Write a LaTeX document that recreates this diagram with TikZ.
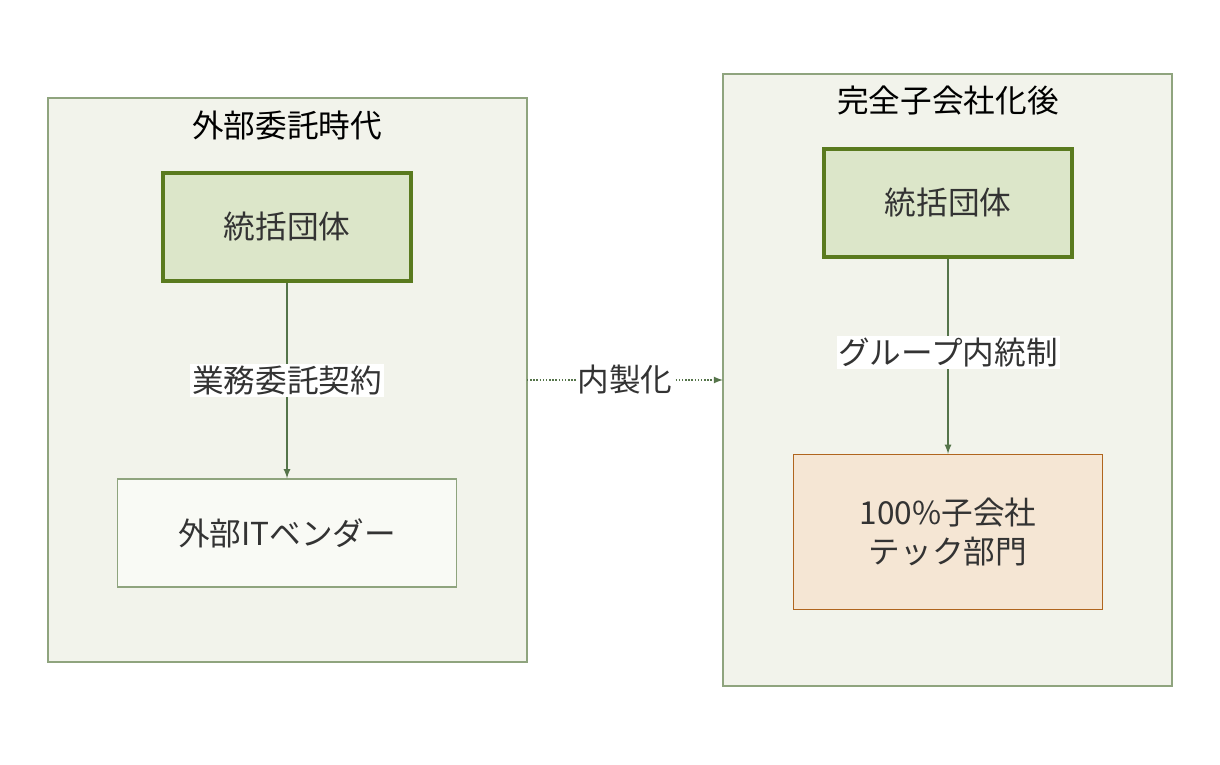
\documentclass[tikz,border=0pt]{standalone}
\usepackage{fontspec}
\setmainfont{Noto Sans CJK JP}
\usetikzlibrary{positioning}
\definecolor{clusterfill}{HTML}{F2F3EB}
\definecolor{clusterline}{HTML}{8FA47E}
\definecolor{leadfill}{HTML}{DCE6C9}
\definecolor{leadline}{HTML}{5A7A1E}
\definecolor{vendorfill}{HTML}{F9FAF5}
\definecolor{subfill}{HTML}{F5E6D4}
\definecolor{subline}{HTML}{B0651E}
\definecolor{arrowline}{HTML}{55744A}
\definecolor{textcol}{HTML}{333333}
\tikzset{
  cluster/.style={draw=clusterline, fill=clusterfill, line width=0.8pt},
  lead/.style={draw=leadline, fill=leadfill, line width=2pt, minimum width=4.96cm, minimum height=2.16cm, text=textcol},
  vendor/.style={draw=clusterline, fill=vendorfill, line width=0.8pt, minimum width=6.78cm, minimum height=2.16cm, text=textcol},
  sub/.style={draw=subline, fill=subfill, line width=0.8pt, minimum width=6.18cm, minimum height=3.1cm, align=center, text=textcol},
  elabel/.style={fill=white, inner sep=1pt, text=textcol},
  link/.style={draw=arrowline, line width=0.8pt, -{latex}},
}
\begin{document}
\begin{tikzpicture}[x=0.02cm, y=-0.02cm, font=\fontsize{18}{22}\selectfont]
\useasboundingbox (0,0) rectangle (1220,764);
% clusters
\draw[cluster] (48,98) rectangle (527,662);
\node[text=black] (outTitle) at (287,125) {外部委託時代};
\draw[cluster] (723,74) rectangle (1172,686);
\node[text=black] (inTitle) at (948,100) {完全子会社化後};
\coordinate (outEast) at (527,380);
\coordinate (inWest) at (723,380);

% nodes
\node[lead] (leadA) at (287,227) {統括団体};
\node[vendor] (vendor) at (287,533) {外部ITベンダー};
\node[lead] (leadB) at (948,203) {統括団体};
\node[sub] (tech) at (948,532) {100\%子会社\\テック部門};

% edges
\draw[link] (leadA) -- node[elabel]{業務委託契約} (vendor);
\draw[link] (leadB) -- node[elabel, pos=0.48]{グループ内統制} (tech);
\draw[link, densely dotted] (outEast) -- node[elabel]{内製化} (inWest);
\end{tikzpicture}
\end{document}
